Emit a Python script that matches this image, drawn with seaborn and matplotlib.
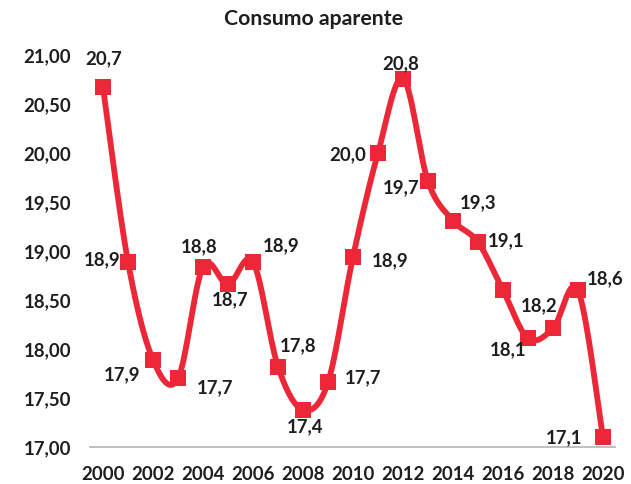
import numpy as np
import pandas as pd
import matplotlib
matplotlib.use("Agg")
import matplotlib.pyplot as plt
import seaborn as sns

# data
years = list(range(2000, 2021))
values = [20.67, 18.89, 17.89, 17.70, 18.84, 18.66, 18.89, 17.82, 17.38, 17.66,
          18.94, 20.00, 20.76, 19.71, 19.31, 19.09, 18.60, 18.11, 18.21, 18.60, 17.10]
show_label = [True] * 21
show_label[16] = False  # 2016 has no label in the original
title = "Consumo aparente"
xticks = list(range(2000, 2021, 2))
yticks = [17.0, 17.5, 18.0, 18.5, 19.0, 19.5, 20.0, 20.5, 21.0]

# label offsets (pixels) relative to each marker
label_offsets = [(1, 29), (-26, 2), (-31, -15), (37, -9), (-4, 20), (2, -15), (28, 16),
                 (20, 21), (2, -17), (35, 5), (37, -4), (-30, -2), (-2, 15), (-27, -6),
                 (25, 18), (28, 1), (0, 0), (-20, -12), (-14, 23), (27, 11), (-39, -1)]

RED = "#EC2737"
TXT = "#1E1E1E"


def smooth_curve(x, y, steps=30):
    # catmull-rom style smoothing like excel's "smoothed line"
    x = np.asarray(x, float)
    y = np.asarray(y, float)
    px = np.concatenate([[x[0]], x, [x[-1]]])
    py = np.concatenate([[y[0]], y, [y[-1]]])
    xs, ys = [], []
    for i in range(1, len(px) - 2):
        p0, p1, p2, p3 = [np.array([px[k], py[k]]) for k in (i - 1, i, i + 1, i + 2)]
        c1 = p1 + (p2 - p0) / 6.0
        c2 = p2 - (p3 - p1) / 6.0
        t = np.linspace(0, 1, steps, endpoint=(i == len(px) - 3))[:, None]
        pts = ((1 - t) ** 3) * p1 + 3 * ((1 - t) ** 2) * t * c1 + 3 * (1 - t) * t ** 2 * c2 + t ** 3 * p2
        xs.append(pts[:, 0])
        ys.append(pts[:, 1])
    return np.concatenate(xs), np.concatenate(ys)


sns.set_style("white")
plt.rcParams["font.family"] = ["Lato", "DejaVu Sans"]
plt.rcParams["font.weight"] = "bold"

fig = plt.figure(figsize=(6.31, 4.84), dpi=100)
ax = fig.add_axes([0.1434, 0.0764, 0.832, 0.81])

sx, sy = smooth_curve(years, values)
df_line = pd.DataFrame({"x": sx, "y": sy})
df_pts = pd.DataFrame({"year": years, "value": values})

sns.lineplot(data=df_line, x="x", y="y", sort=False, estimator=None, color=RED,
             linewidth=4.2, ax=ax, zorder=2)
sns.scatterplot(data=df_pts, x="year", y="value", marker="s", s=130, color=RED,
                edgecolor=RED, linewidth=0, ax=ax, zorder=3)

for yr, v, show, off in zip(years, values, show_label, label_offsets):
    if not show:
        continue
    ax.annotate(f"{v:.1f}".replace(".", ","), (yr, v), xytext=off, textcoords="offset pixels",
                ha="center", va="center", fontsize=13.4, fontweight="bold", color=TXT,
                annotation_clip=False, zorder=4)

ax.set_xlim(1999.5, 2020.5)
ax.set_ylim(17, 21)
ax.set_xticks(xticks)
ax.set_xticklabels([str(t) for t in xticks])
ax.set_yticks(yticks)
ax.set_yticklabels([f"{t:.2f}".replace(".", ",") for t in yticks])
ax.tick_params(axis="both", length=0, labelsize=13.4, colors=TXT)
ax.tick_params(axis="y", pad=14)
ax.tick_params(axis="x", pad=13.5)
for lbl in ax.get_xticklabels() + ax.get_yticklabels():
    lbl.set_fontweight("bold")
ax.set_xlabel("")
ax.set_ylabel("")
ax.grid(False)
for side in ["top", "right", "left"]:
    ax.spines[side].set_visible(False)
ax.spines["bottom"].set_color("#BFBFBF")
ax.spines["bottom"].set_linewidth(1.4)

fig.text(314 / 631, 1 - 19 / 484, title, ha="center", va="center", fontsize=15.3,
         fontweight="bold", color=TXT)

fig.savefig("out.png", dpi=100)
